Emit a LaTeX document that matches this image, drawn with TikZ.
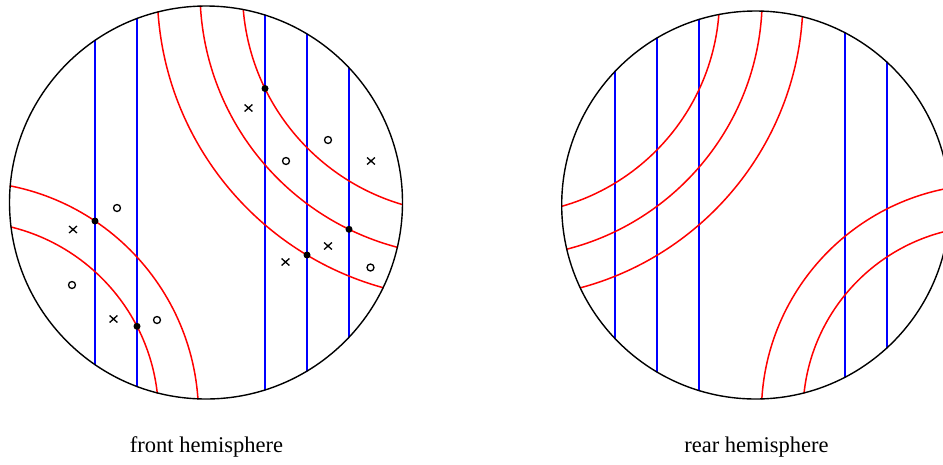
\documentclass[tikz,border=0pt]{standalone}
\usepackage{fontspec}
\setmainfont{Liberation Serif}
\definecolor{lnblue}{RGB}{0,0,255}
\definecolor{lnred}{RGB}{255,0,0}
\begin{document}
\begin{tikzpicture}[x=1pt,y=-1pt,
  rim/.style={line width=1.4pt,black},
  bl/.style={line width=1.4pt,draw=lnblue},
  rd/.style={line width=1.5pt,draw=lnred},
  mk/.style={line width=1.3pt,black},
  dotmk/.style={fill=black},
  lbl/.style={font=\fontsize{22.5}{27}\selectfont, anchor=base, inner sep=0pt},
  omark/.pic={\draw[mk] (0,0) circle[radius=3.5pt];},
  xmark/.pic={\draw[mk] (-3.9,-3.5)--(3.9,3.5) (-3.9,3.5)--(3.9,-3.5);},
]
\useasboundingbox (0,0) rectangle (943,464);
\clip (0,0) rectangle (943,464);

% ---------- front hemisphere ----------
\coordinate (L) at (206,202.5);
\coordinate (LA) at (465,-9);
\coordinate (LB) at (-35,415);
\begin{scope}
  \clip (L) circle[radius=197pt];
  \foreach \x in {95,137,265,307,349} \draw[bl] (\x,0) -- (\x,410);
  \draw[rd] (LA) circle[radius=222.5pt] (LA) circle[radius=265pt] (LA) circle[radius=307.7pt];
  \draw[rd] (LB) circle[radius=233.5pt] (LB) circle[radius=193.5pt];
\end{scope}
\draw[rim] (L) circle[radius=196.5pt];

% intersection dots
\fill[dotmk] (95,221) circle[radius=3.5pt];
\fill[dotmk] (137,326.3) circle[radius=3.5pt];
\fill[dotmk] (265,88.5) circle[radius=3.5pt];
\fill[dotmk] (349,229.3) circle[radius=3.5pt];
\fill[dotmk] (307,255) circle[radius=3.5pt];

% markers
\pic at (117,208) {omark};
\pic at (73,229.5) {xmark};
\pic at (72,285) {omark};
\pic at (113.5,319) {xmark};
\pic at (157,320) {omark};
\pic at (248.5,108) {xmark};
\pic at (328,140) {omark};
\pic at (286,161) {omark};
\pic at (371,161) {xmark};
\pic at (328,246) {xmark};
\pic at (285.5,262) {xmark};
\pic at (370.5,267.5) {omark};

% ---------- rear hemisphere ----------
\coordinate (R) at (755.7,205);
\coordinate (RA) at (502.5,-2.5);
\coordinate (RB) at (990,413);
\begin{scope}
  \clip (R) circle[radius=194.5pt];
  \foreach \x in {615,657,699,845,887} \draw[bl] (\x,0) -- (\x,410);
  \draw[rd] (RA) circle[radius=217pt] (RA) circle[radius=259.7pt] (RA) circle[radius=300.5pt];
  \draw[rd] (RB) circle[radius=228.6pt] (RB) circle[radius=187pt];
\end{scope}
\draw[rim] (R) circle[radius=194pt];

% labels
\node[lbl] (front) at (206.5,452) {front hemisphere};
\node[lbl] (rear) at (756.5,452) {rear hemisphere};
\end{tikzpicture}
\end{document}
